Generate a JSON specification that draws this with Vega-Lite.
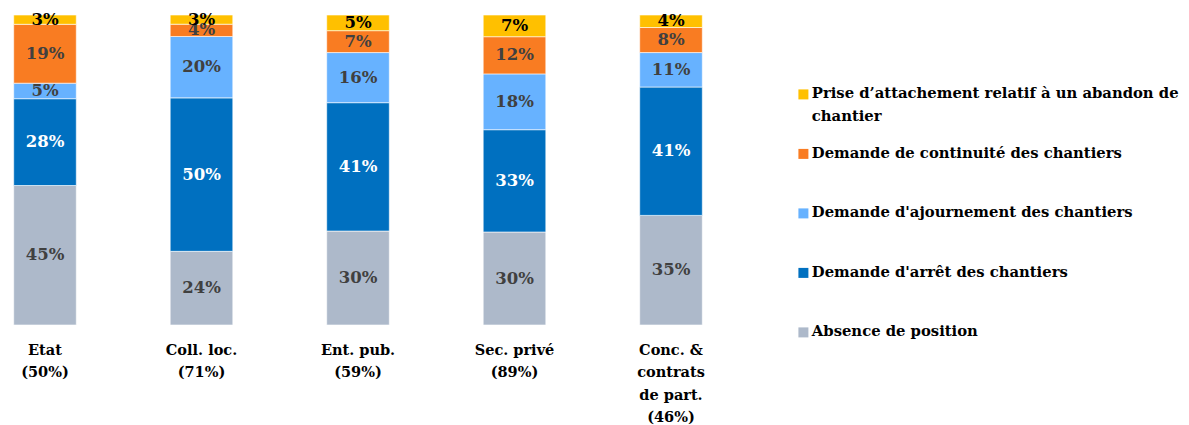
{
  "$schema": "https://vega.github.io/schema/vega-lite/v6.json",
  "width": 716,
  "height": 310,
  "autosize": {"type": "none"},
  "padding": {"left": 0, "top": 15, "right": 473, "bottom": 100},
  "config": {
    "view": {"stroke": null},
    "font": "DejaVu Serif",
    "axis": {"labelFont": "DejaVu Serif"},
    "legend": {"labelFont": "DejaVu Serif"},
    "style": {"guide-label": {"lineHeight": 23}}
  },
  "data": {
    "values": [
      {"cat": "Etat (50%)", "series": "Absence de position", "ord": 1, "v": 45},
      {"cat": "Etat (50%)", "series": "Demande d'arrêt des chantiers", "ord": 2, "v": 28},
      {"cat": "Etat (50%)", "series": "Demande d'ajournement des chantiers", "ord": 3, "v": 5},
      {"cat": "Etat (50%)", "series": "Demande de continuité des chantiers", "ord": 4, "v": 19},
      {"cat": "Etat (50%)", "series": "Prise d’attachement relatif à un abandon de chantier", "ord": 5, "v": 3},
      {"cat": "Coll. loc. (71%)", "series": "Absence de position", "ord": 1, "v": 24},
      {"cat": "Coll. loc. (71%)", "series": "Demande d'arrêt des chantiers", "ord": 2, "v": 50},
      {"cat": "Coll. loc. (71%)", "series": "Demande d'ajournement des chantiers", "ord": 3, "v": 20},
      {"cat": "Coll. loc. (71%)", "series": "Demande de continuité des chantiers", "ord": 4, "v": 4},
      {"cat": "Coll. loc. (71%)", "series": "Prise d’attachement relatif à un abandon de chantier", "ord": 5, "v": 3},
      {"cat": "Ent. pub. (59%)", "series": "Absence de position", "ord": 1, "v": 30},
      {"cat": "Ent. pub. (59%)", "series": "Demande d'arrêt des chantiers", "ord": 2, "v": 41},
      {"cat": "Ent. pub. (59%)", "series": "Demande d'ajournement des chantiers", "ord": 3, "v": 16},
      {"cat": "Ent. pub. (59%)", "series": "Demande de continuité des chantiers", "ord": 4, "v": 7},
      {"cat": "Ent. pub. (59%)", "series": "Prise d’attachement relatif à un abandon de chantier", "ord": 5, "v": 5},
      {"cat": "Sec. privé (89%)", "series": "Absence de position", "ord": 1, "v": 30},
      {"cat": "Sec. privé (89%)", "series": "Demande d'arrêt des chantiers", "ord": 2, "v": 33},
      {"cat": "Sec. privé (89%)", "series": "Demande d'ajournement des chantiers", "ord": 3, "v": 18},
      {"cat": "Sec. privé (89%)", "series": "Demande de continuité des chantiers", "ord": 4, "v": 12},
      {"cat": "Sec. privé (89%)", "series": "Prise d’attachement relatif à un abandon de chantier", "ord": 5, "v": 7},
      {"cat": "Conc. & contrats de part. (46%)", "series": "Absence de position", "ord": 1, "v": 35},
      {"cat": "Conc. & contrats de part. (46%)", "series": "Demande d'arrêt des chantiers", "ord": 2, "v": 41},
      {"cat": "Conc. & contrats de part. (46%)", "series": "Demande d'ajournement des chantiers", "ord": 3, "v": 11},
      {"cat": "Conc. & contrats de part. (46%)", "series": "Demande de continuité des chantiers", "ord": 4, "v": 8},
      {"cat": "Conc. & contrats de part. (46%)", "series": "Prise d’attachement relatif à un abandon de chantier", "ord": 5, "v": 4}
    ]
  },
  "transform": [
    {"stack": "v", "groupby": ["cat"], "sort": [{"field": "ord", "order": "ascending"}], "offset": "normalize", "as": ["y0", "y1"]},
    {"calculate": "(datum.y0 + datum.y1) / 2", "as": "ymid"}
  ],
  "encoding": {
    "x": {
      "field": "cat",
      "type": "nominal",
      "sort": null,
      "title": null,
      "scale": {"paddingInner": 0.6, "paddingOuter": 0.0875},
      "axis": {
        "domain": false,
        "ticks": false,
        "labelAngle": 0,
        "labelFontSize": 14.5,
        "labelFontWeight": "bold",
        "labelColor": "#000000",
        "labelPadding": 18,
        "labelLineHeight": 22.5,
        "labelBaseline": "top",
        "labelExpr": "indexof(datum.label, 'Conc.') == 0 ? ['Conc. &', 'contrats', 'de part.', '(46%)'] : split(replace(datum.label, ' (', '|('), '|')"
      }
    }
  },
  "layer": [
    {
      "mark": {"type": "bar", "stroke": "#ffffff", "strokeWidth": 0.6},
      "encoding": {
        "y": {"field": "y0", "type": "quantitative", "scale": {"domain": [0, 1]}, "axis": null},
        "y2": {"field": "y1"},
        "color": {
          "field": "series",
          "type": "nominal",
          "scale": {
            "domain": [
              "Prise d’attachement relatif à un abandon de chantier",
              "Demande de continuité des chantiers",
              "Demande d'ajournement des chantiers",
              "Demande d'arrêt des chantiers",
              "Absence de position"
            ],
            "range": ["#FFC000", "#F97C22", "#67B2FF", "#0070C0", "#ADB9CA"]
          },
          "legend": {
            "title": null,
            "orient": "none",
            "legendX": 796,
            "legendY": 72,
            "padding": 0,
            "symbolType": "square",
            "symbolSize": 100,
            "symbolStrokeWidth": 0,
            "labelOffset": 1,
            "labelFontSize": 14.8,
            "labelFontWeight": "bold",
            "labelColor": "#000000",
            "labelLimit": 500,
            "rowPadding": 20.5,
            "labelExpr": "indexof(datum.label, 'Prise') == 0 ? ['Prise d’attachement relatif à un abandon de', 'chantier'] : [datum.label, ' ']"
          }
        }
      }
    },
    {
      "mark": {"type": "text", "fontSize": 16.5, "fontWeight": "bold", "baseline": "middle", "text": {"expr": "datum.v + '%'"}},
      "encoding": {
        "y": {"field": "ymid", "type": "quantitative", "scale": {"domain": [0, 1]}, "axis": null},
        "color": {
          "condition": [
            {"test": "datum.ord == 2", "value": "#ffffff"},
            {"test": "datum.ord == 5", "value": "#000000"}
          ],
          "value": "#404040"
        }
      }
    }
  ]
}
